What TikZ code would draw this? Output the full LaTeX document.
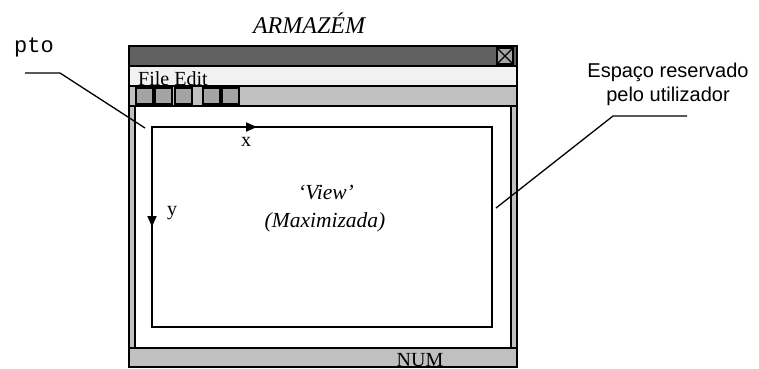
\documentclass[tikz,border=0pt]{standalone}
\usepackage{fontspec}
\setmainfont{Liberation Serif}
\setsansfont{Liberation Sans}
\setmonofont{Liberation Mono}
\usetikzlibrary{arrows.meta,positioning}
\definecolor{wdark}{HTML}{606060}
\definecolor{wmenu}{HTML}{F2F2F2}
\definecolor{wbar}{HTML}{C0C0C0}
\definecolor{wbtn}{HTML}{A4A4A4}

\begin{document}
\begin{tikzpicture}[x=1pt, y=-1pt, font=\fontsize{20}{23}\selectfont,
  frame/.style={draw=black, line width=1.4pt},
  axis/.style={line width=1.8pt, -{Triangle[length=11pt,width=9pt]}},
  leader/.style={line width=1.3pt},
  lbl/.style={inner sep=0pt}]
\useasboundingbox (0,0) rectangle (759,368);
% ---------- title ----------
\node[lbl, font=\fontsize{24}{26}\selectfont\itshape] (title) at (309,23) {ARMAZÉM};
% ---------- window frame ----------
\draw[frame, fill=wdark] (129,46) rectangle (517,66);
\draw[frame, fill=wbtn] (497,48) rectangle (513,64);
\draw[line width=1.2pt] (497,48) -- (513,64) (497,64) -- (513,48);
\draw[frame, fill=wmenu] (129,66) rectangle (517,86);
\node[lbl, anchor=base west] (menu) at (138,85) {File Edit};
\draw[frame, fill=wbar] (129,86) rectangle (517,106);
\foreach \bx in {136,155,175,203,222}{
  \draw[frame, fill=wbtn] (\bx,88) rectangle +(17,16);}
% client area with scroll strips
\draw[frame, fill=white] (129,106) rectangle (517,348);
\draw[frame, fill=wbar] (129,106) rectangle (135,348);
\draw[frame, fill=wbar] (511,106) rectangle (517,348);
% status bar
\draw[frame, fill=wbar] (129,348) rectangle (517,367);
\node[lbl, anchor=base] (num) at (420,366) {NUM};
% ---------- view ----------
\draw[line width=1.5pt] (152,127) rectangle (492,327);
\coordinate (org) at (152,127);
\coordinate (xend) at (257,127);
\coordinate (yend) at (152,227);
\draw[axis] (org) -- (xend);
\draw[axis] (org) -- (yend);
\node[lbl] (xlbl) at (246,142) {x};
\node[lbl] (ylbl) at (172,213) {y};
\node[lbl, font=\fontsize{21.5}{24}\selectfont\itshape] (view) at (326,193) {‘View’};
\node[lbl, font=\fontsize{21.5}{24}\selectfont\itshape] (maxi) at (325,222) {(Maximizada)};
% ---------- callouts ----------
\node[lbl, font=\fontsize{22}{24}\selectfont\ttfamily] (pto) at (34,47) {pto};
\coordinate (ptoa) at (25,73);
\coordinate (ptob) at (60,73);
\coordinate (ptoc) at (145,128);
\draw[leader] (ptoa) -- (ptob) -- (ptoc);
\node[lbl, align=center, font=\fontsize{20}{24}\selectfont\sffamily] (esp) at (668,84)
   {Espaço reservado\\pelo utilizador};
\coordinate (espa) at (687,116);
\coordinate (espb) at (613,116);
\coordinate (espc) at (496,208);
\draw[leader] (espa) -- (espb) -- (espc);
\end{tikzpicture}
\end{document}
